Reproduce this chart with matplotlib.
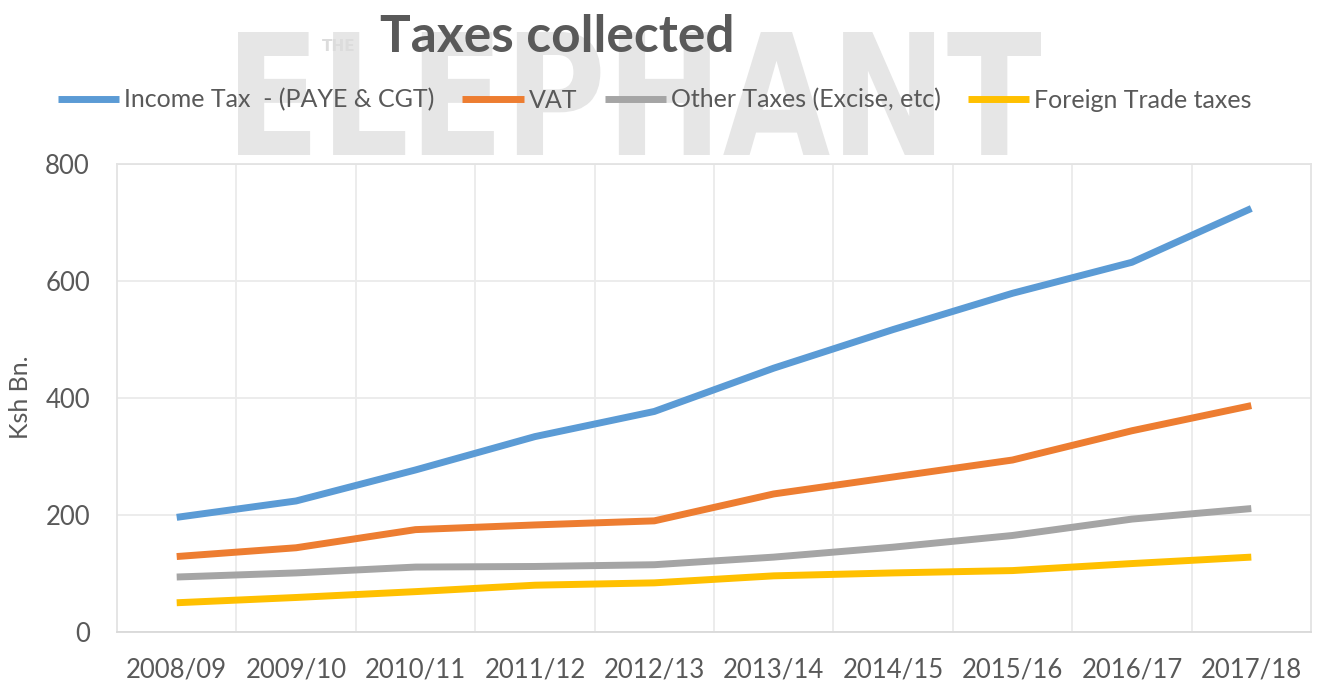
import numpy as np
import matplotlib
matplotlib.use("Agg")
import matplotlib.pyplot as plt
from matplotlib.textpath import TextPath
from matplotlib.patches import PathPatch
from matplotlib.font_manager import FontProperties
from matplotlib.transforms import Affine2D

# data (Ksh Bn.)
years = ['2008/09', '2009/10', '2010/11', '2011/12', '2012/13',
         '2013/14', '2014/15', '2015/16', '2016/17', '2017/18']
income_tax = [196, 224, 277, 334, 377, 451, 517, 579, 632, 724]
vat = [129, 144, 175, 183, 190, 236, 265, 294, 344, 387]
other_taxes = [94, 101, 111, 112, 115, 128, 145, 165, 193, 211]
foreign_trade = [50, 59, 69, 80, 84, 96, 101, 105, 117, 128]

series_names = ['Income Tax  - (PAYE & CGT)', 'VAT',
                'Other Taxes (Excise, etc)', 'Foreign Trade taxes']
colors = ['#5B9BD5', '#ED7D31', '#A5A5A5', '#FFC000']

plt.rcParams['font.family'] = ['Lato', 'DejaVu Sans']
txt_col = '#595959'

W, H = 1320, 684
fig = plt.figure(figsize=(W / 100, H / 100), dpi=100)
fig.patch.set_facecolor('white')

# watermark "THE ELEPHANT" behind title/legend
tp = TextPath((0, 0), "ELEPHANT", size=100,
              prop=FontProperties(family='DejaVu Sans', weight='bold'))
bb = tp.get_extents()
x0, x1, ytop, ybot = 238, 1041, 32, 155
tr = (Affine2D().translate(-bb.x0, -bb.y0)
      .scale((x1 - x0) / bb.width / W, (ybot - ytop) / bb.height / H)
      .translate(x0 / W, (H - ybot) / H) + fig.transFigure)
fig.add_artist(PathPatch(tp, transform=tr, facecolor='#e6e6e6', lw=0, zorder=0))
fig.text(322 / W, 1 - 51 / H, 'THE', fontsize=11, weight='bold', color='#dcdcdc',
         family='DejaVu Sans', zorder=0.5)

ax = fig.add_axes([117 / W, 1 - 632 / H, (1311 - 117) / W, (632 - 164) / H])
x = np.arange(len(years))
for vals, name, c in zip([income_tax, vat, other_taxes, foreign_trade], series_names, colors):
    ax.plot(x, vals, color=c, lw=5, label=name, solid_joinstyle='round',
            solid_capstyle='butt', zorder=3)

ax.set_xlim(-0.5, len(years) - 0.5)
ax.set_ylim(0, 800)
ax.set_yticks([0, 200, 400, 600, 800])
ax.set_xticks(x)
ax.set_xticklabels(years)
ax.set_xticks(np.arange(0.5, len(years) - 1, 1), minor=True)
ax.grid(True, which='minor', axis='x', color='#ebebeb', lw=1.3)
ax.grid(True, which='major', axis='y', color='#ebebeb', lw=1.3)
ax.set_axisbelow(True)
for s in ax.spines.values():
    s.set_color('#e3e3e3')
    s.set_linewidth(1.3)
ax.spines['bottom'].set_color('#d9d9d9')
ax.tick_params(which='both', length=0, colors=txt_col, labelsize=18.5)
ax.tick_params(axis='y', pad=19.5)
ax.tick_params(axis='x', pad=18.5)

fig.text(21 / W, 1 - 397 / H, 'Ksh Bn.', rotation=90, ha='center', va='center',
         fontsize=18, color=txt_col)

fig.text(557 / W, 1 - 52 / H, 'Taxes collected', ha='center', va='baseline',
         fontsize=37, weight='bold', color=txt_col, zorder=5)

fig.legend(loc='center', bbox_to_anchor=(655 / W, 1 - 100 / H), ncol=4,
           frameon=False, fontsize=18, labelcolor=txt_col, handlelength=2.45,
           handletextpad=0.2, columnspacing=1.1)

fig.savefig('out.png', dpi=100, facecolor='white')
